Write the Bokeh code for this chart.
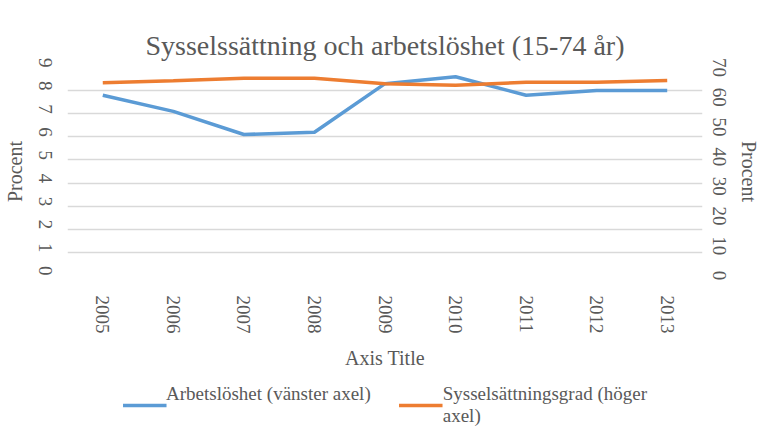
import math
from bokeh.plotting import figure
from bokeh.layouts import column
from bokeh.models import (Range1d, LinearAxis, FixedTicker, Legend, LegendItem,
                          ColumnDataSource, Title)
from bokeh.embed import file_html
from bokeh.resources import INLINE

years = ["2005", "2006", "2007", "2008", "2009", "2010", "2011", "2012", "2013"]
arbetsloshet = [7.8, 7.1, 6.1, 6.2, 8.3, 8.6, 7.8, 8.0, 8.0]
sysselsattning = [64.9, 65.5, 66.4, 66.4, 64.5, 64.0, 65.0, 65.0, 65.6]
left_ticks = [0, 1, 2, 3, 4, 5, 6, 7, 8, 9]
right_ticks = [0, 10, 20, 30, 40, 50, 60, 70]

title_text = "Sysselssättning och arbetslöshet (15-74 år)"
name_blue = "Arbetslöshet (vänster axel)\n "
name_orange = "Sysselsättningsgrad (höger\naxel)"

FONT = "Liberation Serif"
TXT = "#595959"
BLUE = "#5B9BD5"
ORANGE = "#ED7D31"

src = ColumnDataSource(dict(year=years, a=arbetsloshet, s=sysselsattning))

p = figure(width=762, height=371, x_range=years, y_range=Range1d(0, 9),
           output_backend="svg", toolbar_location=None,
           min_border_left=62, min_border_right=58,
           min_border_top=67, min_border_bottom=96)
p.outline_line_color = None
p.background_fill_color = "white"

p.title = Title(text=title_text, align="center", vertical_align="top",
                text_font=FONT, text_font_size="28px",
                text_font_style="normal", text_color=TXT)

p.extra_y_ranges = {"right": Range1d(0, 70)}

ya = p.yaxis[0]
ya.ticker = FixedTicker(ticks=left_ticks)
ya.axis_label = "Procent"

rax = LinearAxis(y_range_name="right", ticker=FixedTicker(ticks=right_ticks),
                 axis_label="Procent")
p.add_layout(rax, "right")

for ax in [ya, rax]:
    ax.axis_line_color = None
    ax.major_tick_line_color = None
    ax.minor_tick_line_color = None
    ax.major_label_text_font = FONT
    ax.major_label_text_font_size = "19px"
    ax.major_label_text_color = TXT
    ax.axis_label_text_font = FONT
    ax.axis_label_text_font_size = "20px"
    ax.axis_label_text_font_style = "normal"
    ax.axis_label_text_color = TXT
ya.major_label_orientation = -math.pi / 2
rax.major_label_orientation = "parallel"
ya.major_label_standoff = 16
ya.axis_label_standoff = 4
rax.major_label_standoff = 4
rax.axis_label_standoff = 9

xa = p.xaxis[0]
xa.axis_line_color = None
xa.major_tick_line_color = None
xa.minor_tick_line_color = None
xa.major_label_orientation = -math.pi / 2
xa.major_label_text_font = FONT
xa.major_label_text_font_size = "19px"
xa.major_label_text_color = TXT
xa.major_label_standoff = 14
xa.axis_label = "Axis Title"
xa.axis_label_text_font = FONT
xa.axis_label_text_font_size = "20px"
xa.axis_label_text_font_style = "normal"
xa.axis_label_text_color = TXT
xa.axis_label_standoff = 10

p.xgrid.grid_line_color = None
p.ygrid.grid_line_color = "#D9D9D9"
p.ygrid.grid_line_width = 1.3
p.ygrid.ticker = FixedTicker(ticks=left_ticks)

p.line("year", "a", source=src, line_color=BLUE, line_width=3.5)
p.line("year", "s", source=src, line_color=ORANGE, line_width=3.5,
       y_range_name="right")

# legend panel below the chart (same series, drawn outside this small frame)
lg = figure(width=762, height=59, x_range=years, y_range=Range1d(100, 101),
            x_axis_type=None, y_axis_type=None, output_backend="svg",
            toolbar_location=None, min_border=0)
lg.outline_line_color = None
lr1 = lg.line("year", "a", source=src, line_color=BLUE, line_width=3.5)
lr2 = lg.line("year", "s", source=src, line_color=ORANGE, line_width=3.5)
legend = Legend(items=[LegendItem(label=name_blue, renderers=[lr1]),
                       LegendItem(label=name_orange, renderers=[lr2])],
                orientation="horizontal", location="top_center",
                border_line_color=None, background_fill_alpha=0,
                label_text_font=FONT, label_text_font_size="19px",
                label_text_line_height=1.05,
                label_text_color=TXT, glyph_width=44, glyph_height=20,
                label_standoff=0, spacing=28, margin=12, padding=0)
lg.add_layout(legend, "center")

layout = column(p, lg, spacing=0)
open("out.html", "w").write(file_html(layout, INLINE))
